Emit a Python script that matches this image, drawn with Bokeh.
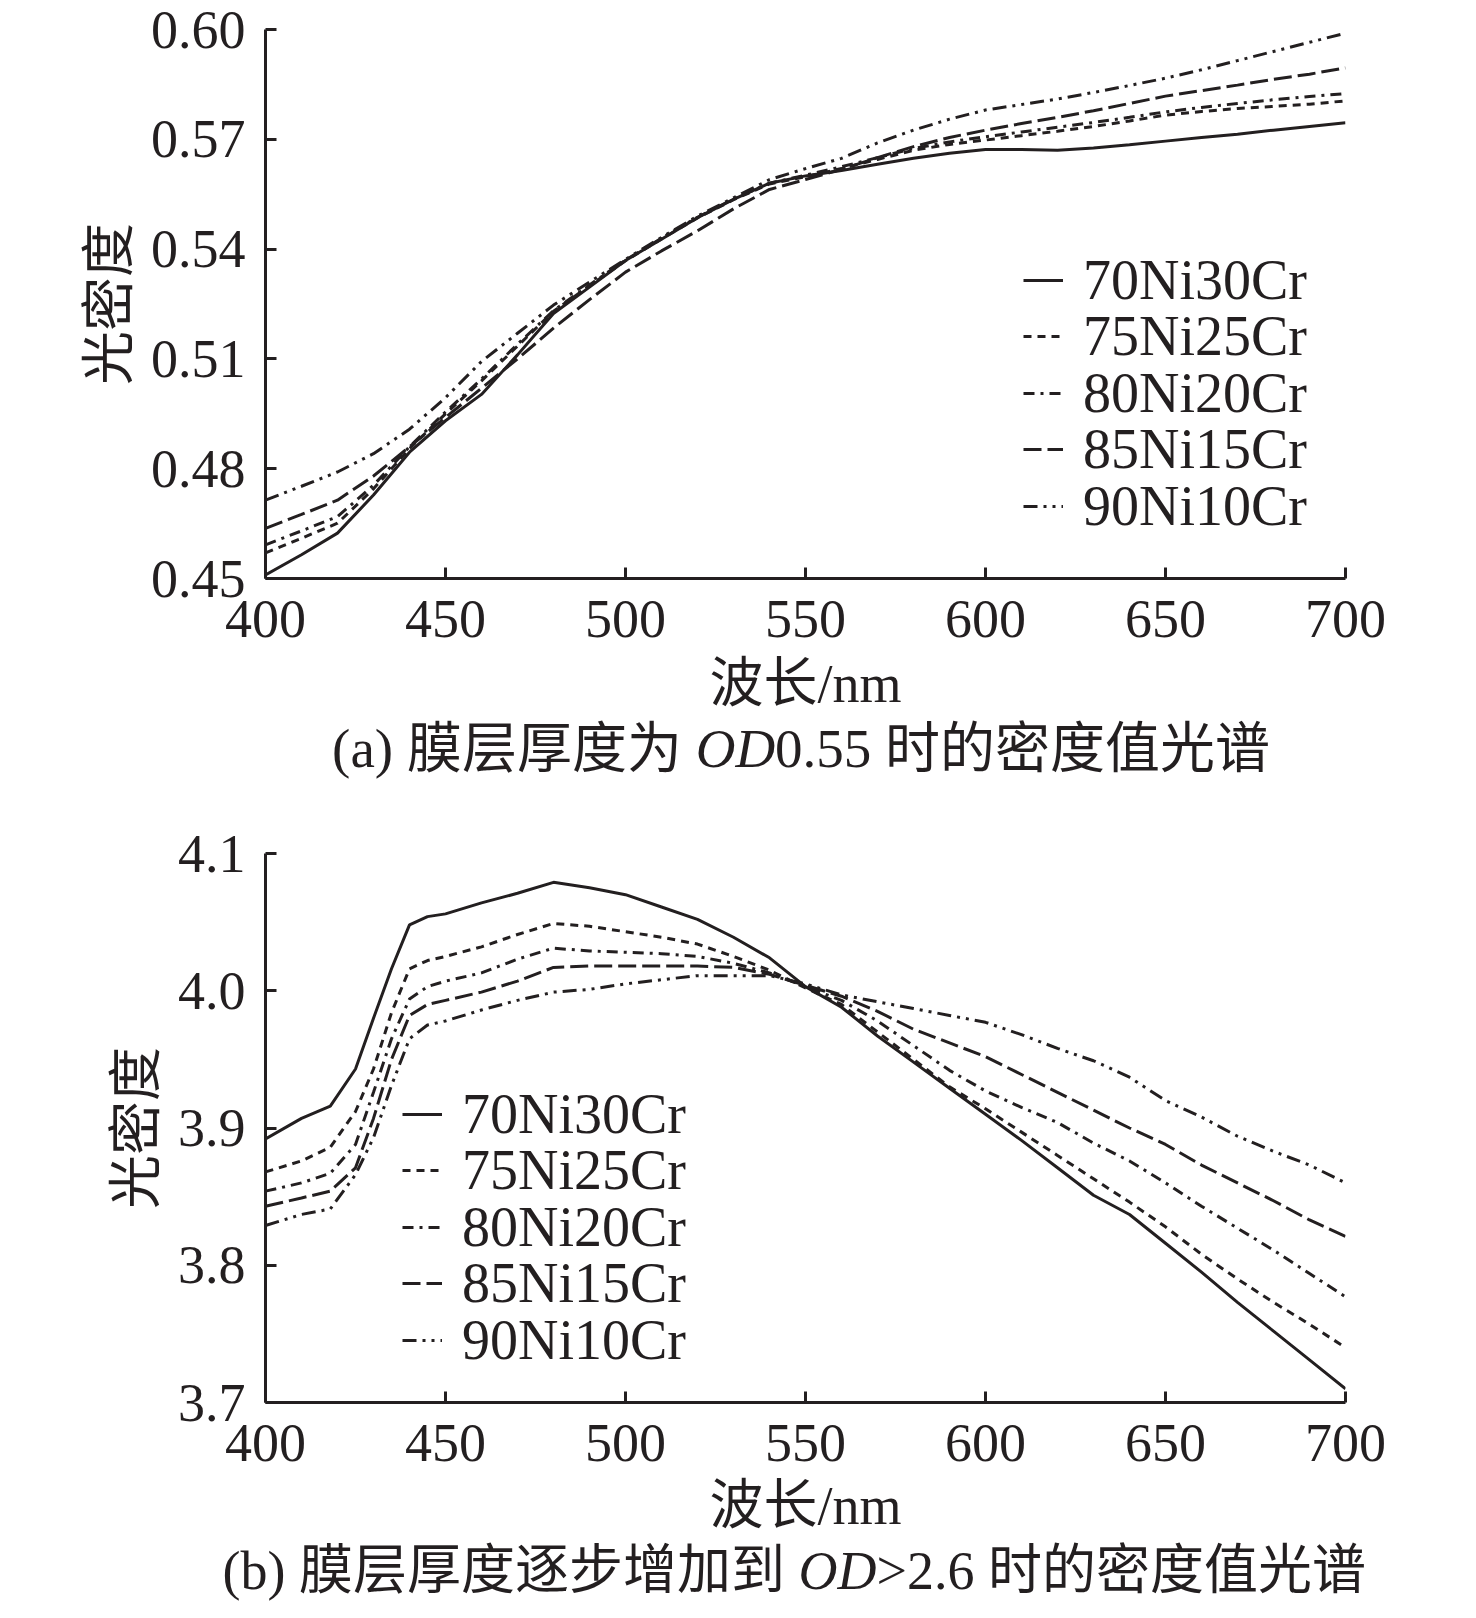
from bokeh.plotting import figure
from bokeh.models import Range1d, FixedTicker, PrintfTickFormatter, Legend, LegendItem
from bokeh.layouts import column
from bokeh.core.properties import value
from bokeh.embed import file_html
from bokeh.resources import INLINE

# ---------------- data ----------------
series_names = ["70Ni30Cr", "75Ni25Cr", "80Ni20Cr", "85Ni15Cr", "90Ni10Cr"]

# (a) OD0.55
wl_a = [400, 410, 420, 430, 440, 450, 460, 470, 480, 490, 500, 510, 520, 530, 540, 550,
        560, 570, 580, 590, 600, 610, 620, 630, 640, 650, 660, 670, 680, 690, 700]
a_70ni30cr = [0.4510, 0.4565, 0.4624, 0.4728, 0.4845, 0.4931, 0.5003, 0.5111, 0.5224, 0.5296,
              0.5369, 0.5427, 0.5486, 0.5536, 0.5580, 0.5600, 0.5615, 0.5632, 0.5648, 0.5662,
              0.5672, 0.5672, 0.5670, 0.5676, 0.5685, 0.5695, 0.5705, 0.5714, 0.5725, 0.5735, 0.5745]
a_75ni25cr = [0.4570, 0.4610, 0.4651, 0.4745, 0.4855, 0.4950, 0.5040, 0.5135, 0.5230, 0.5300,
              0.5368, 0.5428, 0.5485, 0.5535, 0.5578, 0.5598, 0.5620, 0.5645, 0.5670, 0.5686,
              0.5698, 0.5710, 0.5722, 0.5735, 0.5750, 0.5766, 0.5776, 0.5784, 0.5790, 0.5796, 0.5805]
a_80ni20cr = [0.4592, 0.4630, 0.4669, 0.4755, 0.4860, 0.4955, 0.5045, 0.5140, 0.5232, 0.5302,
              0.5370, 0.5430, 0.5487, 0.5537, 0.5580, 0.5602, 0.5625, 0.5650, 0.5675, 0.5693,
              0.5707, 0.5720, 0.5733, 0.5746, 0.5760, 0.5775, 0.5787, 0.5798, 0.5808, 0.5817, 0.5825]
a_85ni15cr = [0.4637, 0.4675, 0.4714, 0.4780, 0.4860, 0.4940, 0.5020, 0.5100, 0.5184, 0.5262,
              0.5337, 0.5395, 0.5450, 0.5510, 0.5563, 0.5590, 0.5618, 0.5650, 0.5680, 0.5705,
              0.5725, 0.5743, 0.5760, 0.5778, 0.5798, 0.5818, 0.5833, 0.5848, 0.5864, 0.5878, 0.5895]
a_90ni10cr = [0.4714, 0.4752, 0.4791, 0.4841, 0.4908, 0.4994, 0.5093, 0.5170, 0.5247, 0.5310,
              0.5372, 0.5432, 0.5490, 0.5540, 0.5590, 0.5620, 0.5648, 0.5690, 0.5725, 0.5755,
              0.5780, 0.5795, 0.5810, 0.5828, 0.5847, 0.5867, 0.5890, 0.5915, 0.5940, 0.5965, 0.5990]

# (b) OD>2.6
wl_b = [400, 410, 418, 425, 430, 435, 440, 445, 450, 460, 470, 480, 490, 500, 510, 520, 530,
        540, 550, 560, 570, 580, 590, 600, 610, 620, 630, 640, 650, 660, 670, 680, 690, 700]
b_70ni30cr = [3.892, 3.907, 3.916, 3.943, 3.980, 4.016, 4.048, 4.054, 4.056, 4.064, 4.071, 4.079,
              4.075, 4.070, 4.061, 4.052, 4.039, 4.024, 4.003, 3.988, 3.967, 3.948, 3.929, 3.910,
              3.891, 3.871, 3.851, 3.837, 3.816, 3.795, 3.773, 3.752, 3.731, 3.710]
b_75ni25cr = [3.868, 3.876, 3.886, 3.912, 3.943, 3.984, 4.016, 4.022, 4.025, 4.032, 4.041, 4.049,
              4.047, 4.043, 4.039, 4.034, 4.025, 4.015, 4.002, 3.990, 3.970, 3.950, 3.930, 3.914,
              3.897, 3.880, 3.863, 3.846, 3.828, 3.808, 3.790, 3.773, 3.757, 3.740]
b_80ni20cr = [3.854, 3.860, 3.867, 3.888, 3.926, 3.965, 3.994, 4.003, 4.007, 4.013, 4.023, 4.031,
              4.029, 4.028, 4.027, 4.025, 4.020, 4.013, 4.003, 3.993, 3.978, 3.960, 3.942, 3.927,
              3.915, 3.904, 3.889, 3.876, 3.860, 3.843, 3.827, 3.811, 3.794, 3.777]
b_85ni15cr = [3.843, 3.849, 3.854, 3.871, 3.907, 3.950, 3.982, 3.990, 3.993, 3.999, 4.007, 4.017,
              4.018, 4.018, 4.018, 4.018, 4.017, 4.012, 4.004, 3.996, 3.985, 3.972, 3.962, 3.952,
              3.939, 3.926, 3.913, 3.900, 3.888, 3.873, 3.860, 3.847, 3.833, 3.821]
b_90ni10cr = [3.829, 3.837, 3.841, 3.866, 3.893, 3.931, 3.965, 3.975, 3.978, 3.986, 3.993, 3.999,
              4.001, 4.005, 4.008, 4.011, 4.011, 4.011, 4.005, 3.997, 3.992, 3.987, 3.982, 3.977,
              3.968, 3.958, 3.949, 3.937, 3.920, 3.908, 3.894, 3.883, 3.873, 3.860]

x_ticks = [400, 450, 500, 550, 600, 650, 700]
y_ticks_a = [0.45, 0.48, 0.51, 0.54, 0.57, 0.60]
y_ticks_b = [3.7, 3.8, 3.9, 4.0, 4.1]

caption_a = [("(a) 膜层厚度为", False), ("OD", True), ("0.55 时的密度值光谱", False)]
caption_b = [("(b) 膜层厚度逐步增加到", False), ("OD", True), (">2.6 时的密度值光谱", False)]

# ---------------- style ----------------
INK = "#231f20"
SERIF = "Liberation Serif, Noto Sans CJK SC"
FS = "54px"
dashes = ["solid", "8 6", "11 6 3 6", "18 6", "14 6 3 6 3 6"]

W = 1460
FRAME_L = 265
FRAME_W = 1080


def make_fig(height, top, frame_h, x0, x1, y0, y1, yticks, yfmt, xlabel_standoff):
    p = figure(width=W, height=height, output_backend="svg", toolbar_location=None,
               x_range=Range1d(x0, x1), y_range=Range1d(y0, y1),
               min_border_left=FRAME_L, min_border_right=W - FRAME_L - FRAME_W,
               min_border_top=top, min_border_bottom=height - top - frame_h)
    p.outline_line_color = None
    p.grid.visible = False
    for ax in (p.xaxis[0], p.yaxis[0]):
        ax.axis_line_color = INK
        ax.axis_line_width = 3
        ax.major_tick_line_color = INK
        ax.major_tick_line_width = 3
        ax.major_tick_in = 11
        ax.major_tick_out = 0
        ax.minor_tick_line_color = None
        ax.major_label_text_font = SERIF
        ax.major_label_text_font_size = FS
        ax.major_label_text_color = INK
        ax.axis_label_text_font = SERIF
        ax.axis_label_text_font_size = FS
        ax.axis_label_text_font_style = "normal"
        ax.axis_label_text_color = INK
    p.xaxis.ticker = FixedTicker(ticks=x_ticks)
    p.yaxis.ticker = FixedTicker(ticks=yticks)
    p.yaxis.formatter = PrintfTickFormatter(format=yfmt)
    p.xaxis.major_label_standoff = 22
    p.yaxis.major_label_standoff = 20
    p.xaxis.axis_label = "波长/nm"
    p.yaxis.axis_label = "光密度"
    p.xaxis.axis_label_standoff = xlabel_standoff
    p.yaxis.axis_label_standoff = 8
    return p


def add_lines(p, wl, ys, legend_x, legend_bottom, pitch=56.6, item_h=64):
    n = len(series_names)
    for i, (name, y, d) in enumerate(zip(series_names, ys, dashes)):
        r = p.line(wl, y, line_color=INK, line_width=3, line_dash=d)
        row_center = legend_bottom + (n - 1 - i) * pitch
        lg = Legend(items=[LegendItem(label=name, renderers=[r])],
                    location=(legend_x, int(round(row_center - item_h / 2))),
                    border_line_color=None, background_fill_alpha=0,
                    padding=0, margin=0, spacing=0,
                    glyph_width=40, glyph_height=40, label_height=40,
                    label_standoff=20, label_text_font="Liberation Serif",
                    label_text_font_size="56px", label_text_color=INK)
        p.add_layout(lg)


def caption_fig(height, y, parts, em_widths, fs_px):
    c = figure(width=W, height=height, output_backend="svg", toolbar_location=None,
               x_range=Range1d(0, W), y_range=Range1d(0, height),
               x_axis_type=None, y_axis_type=None, min_border=0)
    c.frame_align = False
    c.outline_line_color = None
    c.grid.visible = False
    xc = FRAME_L + FRAME_W / 2
    widths = [w * fs_px for w in em_widths]
    gap = 0.25 * fs_px
    total = widths[0] + gap + widths[1] + widths[2]
    anchor = xc - total / 2 + widths[0]
    specs = [(anchor, "right"), (anchor + gap, "left"), (anchor + gap + widths[1], "left")]
    for (txt, ital), (xx, al) in zip(parts, specs):
        c.text(x=[xx], y=[y], text=[txt], text_align=al, text_baseline="middle",
               text_font=value(SERIF), text_font_size=f"{fs_px}px",
               text_font_style="italic" if ital else "normal", text_color=INK)
    return c


# ---------------- figure (a) ----------------
H1, TOP1, FH1 = 716, 29, 553
p1 = make_fig(H1, TOP1, FH1, 400, 700, 0.45, 0.60, y_ticks_a, "%.2f", 14)
add_lines(p1, wl_a, [a_70ni30cr, a_75ni25cr, a_80ni20cr, a_85ni15cr, a_90ni10cr],
          legend_x=758, legend_bottom=72)
cap1 = caption_fig(68, 36, caption_a, [6.2, 1.444, 9.0], 55)

# ---------------- figure (b) ----------------
H2, TOP2, FH2 = 754, 69, 554
p2 = make_fig(H2, TOP2, FH2, 400, 700, 3.7, 4.1, y_ticks_b, "%.1f", 12)
add_lines(p2, wl_b, [b_70ni30cr, b_75ni25cr, b_80ni20cr, b_85ni15cr, b_90ni10cr],
          legend_x=137, legend_bottom=62)
cap2 = caption_fig(64, 32, caption_b, [10.0, 1.444, 9.064], 54)

layout = column(p1, cap1, p2, cap2, spacing=0)
open("out.html", "w").write(file_html(layout, INLINE))
